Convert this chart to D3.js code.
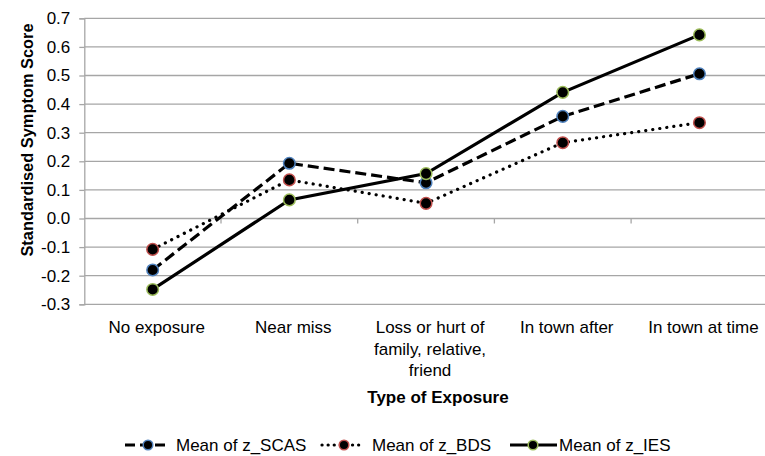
<!DOCTYPE html>
<html><head><meta charset="utf-8">
<script src="https://cdn.jsdelivr.net/npm/d3@7"></script>
<style>
html,body{margin:0;padding:0;background:#fff;}
svg{display:block;font-family:"Liberation Sans",Arial,sans-serif;}
</style></head>
<body>
<svg id="c" width="765" height="456"></svg>
<script>
const categories = ["No exposure","Near miss","Loss or hurt of family, relative, friend","In town after","In town at time"];
const scas = [-0.18, 0.193, 0.125, 0.357, 0.506];
const bds  = [-0.108, 0.135, 0.053, 0.265, 0.335];
const ies  = [-0.248, 0.065, 0.157, 0.441, 0.642];
const yTicks = [-0.3,-0.2,-0.1,0.0,0.1,0.2,0.3,0.4,0.5,0.6,0.7];
const seriesNames = ["Mean of z_SCAS","Mean of z_BDS","Mean of z_IES"];

const series = [
  {name: seriesNames[0], values: scas, color:"#4f81bd", dash:"11,5", legDash:"10,5", cap:"butt"},
  {name: seriesNames[1], values: bds,  color:"#c0504d", dash:"0.1,7", legDash:"0.1,6", cap:"round"},
  {name: seriesNames[2], values: ies,  color:"#9bbb59", dash:null, legDash:null, cap:"butt"}
];

const svg = d3.select("#c");
const L = 84.3, R = 767.8, T = 18.3, B = 304.3;
const y = d3.scaleLinear().domain([-0.3,0.7]).range([B,T]);
const xb = d3.scaleBand().domain(categories).range([L,R]);
const x = d3.scalePoint().domain(categories).range([L,R]).padding(0.5);

// gridlines
svg.append("g").selectAll("line").data(yTicks).join("line")
  .attr("x1",L).attr("x2",R).attr("y1",d=>y(d)).attr("y2",d=>y(d))
  .attr("stroke","#a6a6a6").attr("stroke-width",1.3);

// y axis
const yAxis = d3.axisLeft(y).tickValues(yTicks).tickFormat(d3.format(".1f")).tickSize(5).tickPadding(9);
const gy = svg.append("g").attr("transform",`translate(${L},0)`).call(yAxis);
gy.select(".domain").attr("stroke","#a6a6a6").attr("stroke-width",1.3);
gy.selectAll(".tick line").attr("stroke","#a6a6a6").attr("stroke-width",1.3);
gy.selectAll("text").attr("font-size",17).attr("fill","#000").attr("font-family","Liberation Sans, Arial, sans-serif")
  .text(d=> (d<0? "-" : "") + d3.format(".1f")(Math.abs(d)));

// x axis at 0 with category boundary ticks
const bounds = categories.slice(1).map(c=>xb(c));
svg.append("g").selectAll("line").data(bounds).join("line")
  .attr("x1",d=>d).attr("x2",d=>d).attr("y1",y(0)).attr("y2",y(0)+5)
  .attr("stroke","#a6a6a6").attr("stroke-width",1.3);

// x labels
const maxW = 130;
const gx = svg.append("g");
categories.forEach(c=>{
  const t = gx.append("text").attr("x",x(c)+4).attr("y",327).attr("text-anchor","middle")
    .attr("font-size",17).attr("dominant-baseline","central");
  const words = c.split(" ");
  let line = [];
  let ts = t.append("tspan").attr("x",x(c)+4).attr("dy",0);
  words.forEach(w=>{
    line.push(w);
    ts.text(line.join(" "));
    if (ts.node().getComputedTextLength() > maxW && line.length>1) {
      line.pop(); ts.text(line.join(" "));
      line = [w];
      ts = t.append("tspan").attr("x",x(c)+4).attr("dy",21.5).text(w);
    }
  });
});

// titles
svg.append("text").attr("x",438).attr("y",397).attr("text-anchor","middle")
  .attr("dominant-baseline","central").attr("font-size",17).attr("font-weight","bold").text("Type of Exposure");
svg.append("text").attr("transform","translate(27,140) rotate(-90)").attr("text-anchor","middle")
  .attr("dominant-baseline","central").attr("font-size",16.4).attr("font-weight","bold").text("Standardised Symptom Score");

// lines
const line = d3.line().x((d,i)=>x(categories[i])).y(d=>y(d));
series.forEach(s=>{
  svg.append("path").datum(s.values).attr("d",line).attr("fill","none")
    .attr("stroke","#000").attr("stroke-width",3.2)
    .attr("stroke-dasharray",s.dash).attr("stroke-linecap",s.cap);
});
series.forEach(s=>{
  svg.append("g").selectAll("circle").data(s.values).join("circle")
    .attr("cx",(d,i)=>x(categories[i])).attr("cy",d=>y(d)).attr("r",5.8)
    .attr("fill","#000").attr("stroke",s.color).attr("stroke-width",1.5);
});

// legend
const leg = [{x0:125, x1:165, m:148, tx:176},{x0:322, x1:364, m:344, tx:372},{x0:510, x1:557, m:533, tx:559}];
series.forEach((s,i)=>{
  const g = svg.append("g");
  const ly = 445;
  g.append("line").attr("x1",leg[i].x0).attr("x2",leg[i].x1).attr("y1",ly).attr("y2",ly)
    .attr("stroke","#000").attr("stroke-width",3.2).attr("stroke-dasharray",s.legDash)
    .attr("stroke-linecap",s.cap);
  g.append("circle").attr("cx",leg[i].m).attr("cy",ly).attr("r",4.8)
    .attr("fill","#000").attr("stroke",s.color).attr("stroke-width",1.5);
  g.append("text").attr("x",leg[i].tx).attr("y",ly).attr("dominant-baseline","central")
    .attr("font-size",17).text(s.name);
});
</script>
</body></html>
